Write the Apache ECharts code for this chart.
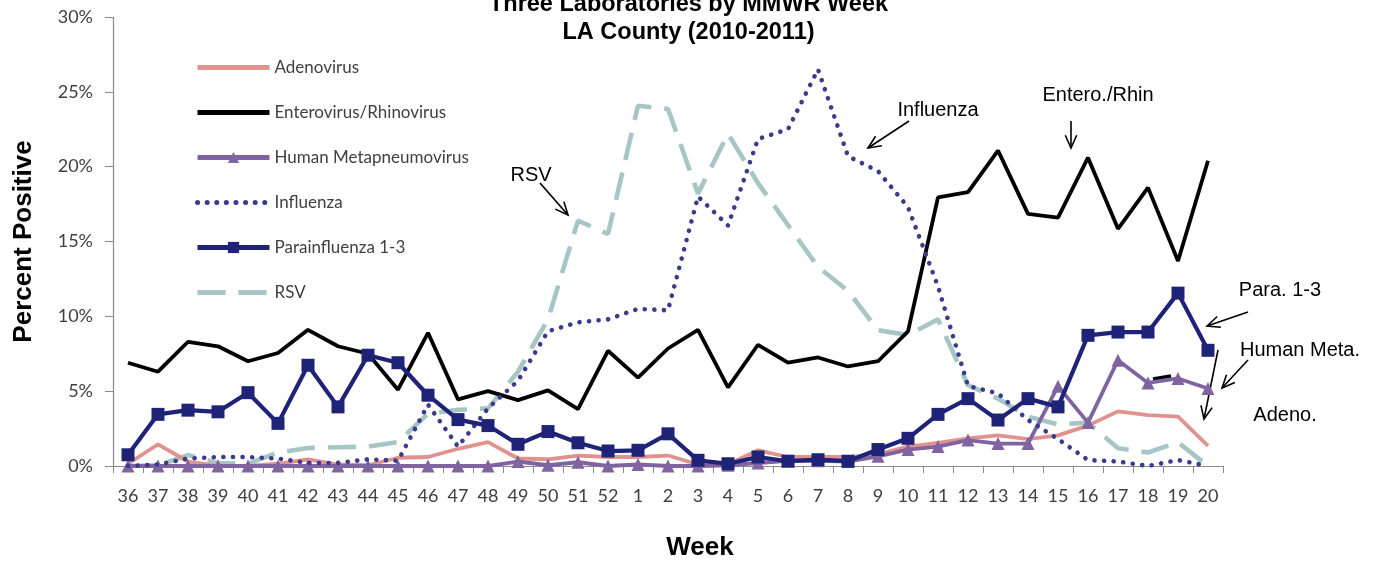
<!DOCTYPE html>
<html>
<head>
<meta charset="utf-8">
<script src="https://cdn.jsdelivr.net/npm/echarts@6.0.0/dist/echarts.min.js"></script>
<style>
html,body{margin:0;padding:0;background:#fff;}
#chart{width:1377px;height:561px;}
</style>
</head>
<body>
<div id="chart"></div>
<script>
// ---- data ----
var weeks = ['36','37','38','39','40','41','42','43','44','45','46','47','48','49','50','51','52',
  '1','2','3','4','5','6','7','8','9','10','11','12','13','14','15','16','17','18','19','20'];

var adenovirus = [0.15,1.45,0.3,0.0,0.0,0.15,0.45,0.1,0.05,0.55,0.6,1.15,1.6,0.5,0.45,0.7,0.6,
  0.6,0.7,0.1,0.1,1.05,0.6,0.6,0.6,0.8,1.3,1.55,1.85,2.05,1.8,2.05,2.7,3.65,3.4,3.3,1.35];

var enteroRhino = [6.9,6.3,8.3,8.0,7.0,7.55,9.1,8.0,7.5,5.1,8.9,4.45,5.0,4.4,5.05,3.8,7.7,
  5.9,7.85,9.1,5.25,8.1,6.9,7.25,6.65,7.0,9.0,17.95,18.3,21.07,16.85,16.6,20.6,15.85,18.6,13.7,20.4];

var hmpv = [0,0,0,0,0,0,0,0,0,0,0,0,0,0.3,0.05,0.25,0,
  0.1,0,0,0.05,0.2,0.35,0.35,0.3,0.65,1.1,1.3,1.73,1.5,1.5,5.33,2.9,7.07,5.55,5.85,5.18];

var influenza = [0,0.1,0.5,0.6,0.6,0.5,0.2,0.2,0.45,0.35,4.1,1.3,3.85,5.7,9.0,9.6,9.8,
  10.5,10.4,18.0,16.07,21.85,22.5,26.5,20.7,19.7,17.3,12.0,5.35,4.85,3.07,1.8,0.4,0.3,0,0.4,0];

var parainfluenza = [0.75,3.45,3.73,3.62,4.9,2.85,6.73,3.95,7.4,6.9,4.73,3.1,2.7,1.45,2.3,1.55,1.0,
  1.05,2.15,0.38,0.15,0.6,0.32,0.42,0.32,1.1,1.85,3.45,4.5,3.07,4.5,3.95,8.73,8.95,8.95,11.55,7.73];

var rsv = [0,0.05,0.73,0.2,0.15,0.9,1.2,1.25,1.3,1.6,3.5,3.75,3.85,6.3,9.8,16.4,15.5,
  24.07,23.85,18.2,22.2,18.9,16.1,13.3,11.7,9.07,8.75,9.8,5.4,4.5,3.3,2.78,2.9,1.18,0.9,1.58,0];

var seriesNames = ['Adenovirus','Enterovirus/Rhinovirus','Human Metapneumovirus','Influenza','Parainfluenza 1-3','RSV'];
var withMarker = {'Human Metapneumovirus':true, 'Parainfluenza 1-3':true};
var yTicks = [0,5,10,15,20,25,30];

// ---- chart ----
var chart = echarts.init(document.getElementById('chart'), null, {renderer:'canvas'});

function arrow(x1,y1,x2,y2){
  var a = Math.atan2(y2-y1, x2-x1), L = 14, s = 0.42;
  return [
    {type:'polyline', shape:{points:[[x1,y1],[x2,y2]]}, style:{stroke:'#000', lineWidth:1.6, fill:null}},
    {type:'polyline', shape:{points:[[x2-L*Math.cos(a-s), y2-L*Math.sin(a-s)],[x2,y2],[x2-L*Math.cos(a+s), y2-L*Math.sin(a+s)]]},
      style:{stroke:'#000', lineWidth:1.6, fill:null}}
  ];
}
function label(t,x,y){
  return {type:'text', x:x, y:y, style:{text:t, fill:'#000', font:'20px "Liberation Sans", Arial, sans-serif',
    align:'center', verticalAlign:'middle', textAlign:'center', textVerticalAlign:'middle'}};
}
var graphics = [].concat(
  [label('RSV',531,175)], arrow(540,183,568,215),
  [label('Influenza',938,110)], arrow(909,121,868,148),
  [label('Entero./Rhin',1098,95)], arrow(1071,121,1071,148),
  [label('Para. 1-3',1280,290)], arrow(1248,312,1207,326),
  [label('Human Meta.',1300,350)], arrow(1248,360,1222,388),
  [label('Adeno.',1285,415)], arrow(1218,350,1204,419),
  [{type:'line', shape:{x1:1153,y1:379,x2:1171,y2:376}, style:{stroke:'#000', lineWidth:3.5}}]
);

var legendData = seriesNames.map(function(n){
  return withMarker[n] ? {name:n} : {name:n, itemStyle:{opacity:0}};
});

var option = {
  animation:false,
  backgroundColor:'#ffffff',
  title:{
    text:'Three Laboratories by MMWR Week\nLA County (2010-2011)',
    left:'center', top:-9, padding:0,
    textStyle:{fontFamily:'"Liberation Sans", Arial, sans-serif', fontWeight:'bold', fontSize:23.5, lineHeight:28, color:'#000'}
  },
  legend:{
    orient:'vertical', left:190, top:54, itemWidth:72, itemHeight:14, itemGap:28,
    data:legendData,
    lineStyle:{width:5},
    textStyle:{fontFamily:'Lato, "Open Sans", sans-serif', fontSize:17, color:'#404040'}
  },
  grid:{left:113, right:154, top:17, bottom:95, containLabel:false, outerBoundsMode:'none'},
  xAxis:{
    type:'category', data:weeks, boundaryGap:true,
    name:'Week', nameLocation:'middle', nameGap:69,
    nameTextStyle:{fontFamily:'"Liberation Sans", Arial, sans-serif', fontWeight:'bold', fontSize:26, color:'#000', padding:[0,0,0,64]},
    axisLine:{lineStyle:{color:'#8a8a8a', width:1.2}},
    axisTick:{show:true, length:7, lineStyle:{color:'#8a8a8a'}},
    axisLabel:{fontFamily:'Lato, "Open Sans", sans-serif', fontSize:18, color:'#404040', margin:21, interval:0}
  },
  yAxis:{
    type:'value', min:0, max:30, interval:5,
    name:'Percent Positive', nameLocation:'middle', nameGap:76, nameRotate:90,
    nameTextStyle:{fontFamily:'"Liberation Sans", Arial, sans-serif', fontWeight:'bold', fontSize:26, color:'#000'},
    axisLine:{show:true, lineStyle:{color:'#8a8a8a', width:1.2}},
    axisTick:{show:true, length:8, lineStyle:{color:'#8a8a8a'}},
    splitLine:{show:false},
    axisLabel:{fontFamily:'Lato, "Open Sans", sans-serif', fontSize:18, color:'#404040', margin:20,
      formatter:function(v){ return yTicks.indexOf(v) >= 0 ? v + '%' : ''; }}
  },
  series:[
    {name:seriesNames[0], type:'line', data:adenovirus, symbol:'circle', showSymbol:false, z:2,
      lineStyle:{color:'#e0938e', width:3.8}, itemStyle:{color:'#e0938e'}},
    {name:seriesNames[1], type:'line', data:enteroRhino, symbol:'circle', showSymbol:false, z:3,
      lineStyle:{color:'#000000', width:3.8}, itemStyle:{color:'#000000'}},
    {name:seriesNames[2], type:'line', data:hmpv, symbol:'triangle', symbolSize:13, z:4,
      lineStyle:{color:'#8064a2', width:3.8}, itemStyle:{color:'#8064a2'}},
    {name:seriesNames[3], type:'line', data:influenza, symbol:'circle', showSymbol:false, z:5,
      lineStyle:{color:'#3b3a8c', width:4.6, type:[0.1,9.5], cap:'round'}, itemStyle:{color:'#3b3a8c'}},
    {name:seriesNames[4], type:'line', data:parainfluenza, symbol:'rect', symbolSize:13, z:6,
      lineStyle:{color:'#1f2378', width:4.2}, itemStyle:{color:'#1f2378'}},
    {name:seriesNames[5], type:'line', data:rsv, symbol:'circle', showSymbol:false, z:1,
      lineStyle:{color:'#a6c6c5', width:4.6, type:[28,13]}, itemStyle:{color:'#a6c6c5'}}
  ],
  graphic:graphics
};
chart.setOption(option);
</script>
</body>
</html>
